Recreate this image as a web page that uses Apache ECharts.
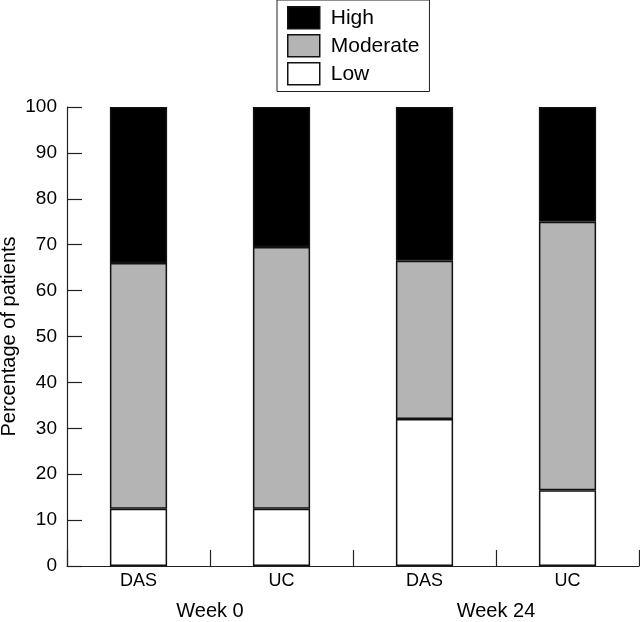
<!DOCTYPE html>
<html><head><meta charset="utf-8">
<script src="https://cdn.jsdelivr.net/npm/echarts@6/dist/echarts.min.js"></script>
<style>html,body{margin:0;padding:0;background:#fff}#c{width:640px;height:622px}</style>
</head><body><div id="c"></div>
<script>
const categories = ["DAS", "UC", "DAS", "UC"];
const groups = ["Week 0", "Week 24"];
const lowValues = [12.5, 12.5, 32, 16.5];
const moderateValues = [53.5, 57, 34.5, 58.5];
const highValues = [34, 30.5, 33.5, 25];
const yTicks = [0, 10, 20, 30, 40, 50, 60, 70, 80, 90, 100];

const font = "Liberation Sans, Arial, Helvetica, sans-serif";
const axisCol = "#222";
const barBorder = { borderColor: "#111", borderWidth: 1.5 };

const chart = echarts.init(document.getElementById("c"));
chart.setOption({
  animation: false,
  backgroundColor: "#fff",
  textStyle: { fontFamily: font },
  grid: { left: 67, right: 1, top: 107, bottom: 56, containLabel: false, outerBoundsMode: "none" },
  legend: {
    data: ["High", "Moderate", "Low"],
    orient: "vertical",
    left: 277, top: 0,
    padding: [6, 10, 6, 10],
    icon: "rect",
    itemWidth: 32, itemHeight: 22, itemGap: 4.5,
    borderColor: "#222", borderWidth: 1,
    itemStyle: { borderColor: "#111", borderWidth: 1.5 },
    textStyle: { fontSize: 21, color: "#000", fontFamily: font, padding: [0, 0, 0, 6] }
  },
  xAxis: [{
    type: "category",
    data: categories,
    position: "bottom",
    axisLine: { lineStyle: { color: axisCol, width: 1.2 } },
    axisTick: { show: true, interval: 0, alignWithLabel: false, inside: true, length: 16, lineStyle: { color: axisCol, width: 1.2 } },
    axisLabel: { fontSize: 18, color: "#000", margin: 6, fontFamily: font, interval: 0 }
  }, {
    type: "category",
    data: groups,
    position: "bottom",
    axisLine: { show: false },
    axisTick: { show: false },
    axisLabel: { fontSize: 20, color: "#000", margin: 35, fontFamily: font, interval: 0 }
  }],
  yAxis: {
    type: "value",
    min: 0, max: 100, interval: 10,
    name: "Percentage of patients",
    nameLocation: "middle",
    nameGap: 48,
    nameMoveOverlap: false,
    nameTextStyle: { fontSize: 20, color: "#000", fontFamily: font },
    axisLine: { show: true, lineStyle: { color: axisCol, width: 1.2 } },
    axisTick: { show: true, inside: true, length: 15, lineStyle: { color: axisCol, width: 1.2 } },
    splitLine: { show: false },
    axisLabel: { fontSize: 19, color: "#000", margin: 10, fontFamily: font,
      formatter: v => yTicks.includes(v) ? String(v) : "" }
  },
  series: [
    { name: "Low", type: "bar", stack: "s", data: lowValues, barWidth: "40%",
      itemStyle: Object.assign({ color: "#fff" }, barBorder) },
    { name: "Moderate", type: "bar", stack: "s", data: moderateValues, barWidth: "40%",
      itemStyle: Object.assign({ color: "#b4b4b4" }, barBorder) },
    { name: "High", type: "bar", stack: "s", data: highValues, barWidth: "40%",
      itemStyle: Object.assign({ color: "#000" }, barBorder) }
  ]
});
</script></body></html>
